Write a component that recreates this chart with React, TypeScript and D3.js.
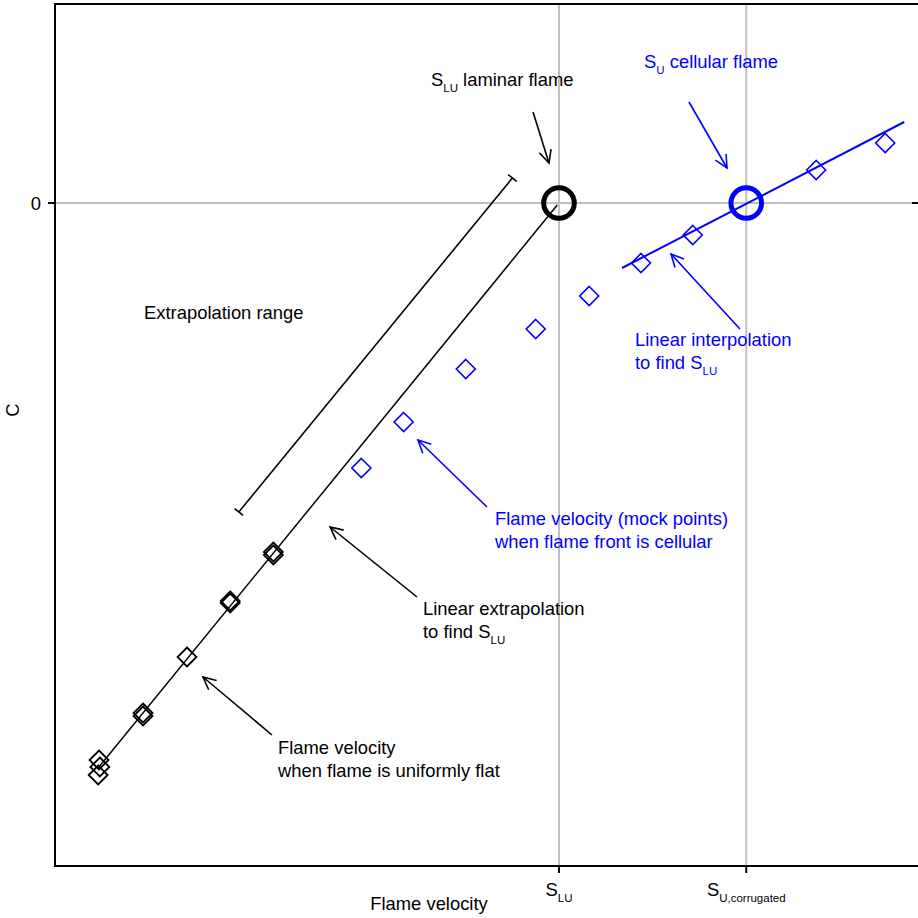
import React from "react";
import * as d3 from "d3";

// ---- data (abstract units) ----
const flatX = [0.50, 0.51, 0.52, 1.02, 1.02, 1.53, 2.03, 2.03, 2.53, 2.53];
const flatY = [-5.72, -5.57, -5.64, -5.10, -5.13, -4.54, -3.98, -4.00, -3.52, -3.49];

const cellX = [3.55, 4.04, 4.76, 5.57, 6.19, 6.79, 7.39, 8.82, 9.62];
const cellY = [-2.65, -2.19, -1.66, -1.26, -0.93, -0.60, -0.32, 0.33, 0.60];

const extrapLineX = [0.49, 5.82];
const extrapLineY = [-5.66, -0.02];
const interpLineX = [6.57, 9.84];
const interpLineY = [-0.65, 0.81];
const rangeBarX = [2.13, 5.30];
const rangeBarY = [-3.09, 0.25];

const S_LU = 5.84;
const S_UC = 8.01;
const xTickValues = [S_LU, S_UC];
const xTickMain = ["S", "S"];
const xTickSub = ["LU", "U,corrugated"];
const yTickValues = [0];
const yTickLabels = ["0"];

// arrows: tail -> tip
const arrowTailX = [5.539, 7.346, 7.937, 5.006, 4.195, 2.514];
const arrowTailY = [0.91, 1.01, -1.26, -3.04, -3.94, -5.32];
const arrowTipX = [5.724, 7.787, 7.138, 4.206, 3.187, 1.715];
const arrowTipY = [0.40, 0.35, -0.51, -2.37, -3.24, -4.74];
const arrowColor = ["#000", "#0000ff", "#0000ff", "#0000ff", "#000", "#000"];

const X_DOMAIN = [0, 10];
const Y_DOMAIN = [-6.63, 1.99];

const BLUE = "#0000ff";
const FONT = "'Liberation Sans', Arial, sans-serif";
const FS = 18.4;
const SUB_FS = 11.5;
const SUB_DY = 6;

export default function App() {
  const W = 918, H = 918;
  const left = 55, top = 4, bottom = 866, right = 918;
  const x = d3.scaleLinear().domain(X_DOMAIN).range([left, right]);
  const y = d3.scaleLinear().domain(Y_DOMAIN).range([bottom, top]);
  const line = d3.line<[number, number]>().x(d => x(d[0])).y(d => y(d[1]));

  const diamond = (cx: number, cy: number, r: number) =>
    `M${cx},${cy - r}L${cx + r},${cy}L${cx},${cy + r}L${cx - r},${cy}Z`;

  const arrow = (i: number) => {
    const x1 = x(arrowTailX[i]), y1 = y(arrowTailY[i]);
    const x2 = x(arrowTipX[i]), y2 = y(arrowTipY[i]);
    const ang = Math.atan2(y2 - y1, x2 - x1);
    const L = 14, a = (26 * Math.PI) / 180;
    const h1 = [x2 - L * Math.cos(ang - a), y2 - L * Math.sin(ang - a)];
    const h2 = [x2 - L * Math.cos(ang + a), y2 - L * Math.sin(ang + a)];
    return (
      <g key={"a" + i} stroke={arrowColor[i]} strokeWidth={1.6} fill="none">
        <line x1={x1} y1={y1} x2={x2} y2={y2} />
        <path d={`M${h1[0]},${h1[1]}L${x2},${y2}L${h2[0]},${h2[1]}`} />
      </g>
    );
  };

  // range bar with end caps
  const rb = (() => {
    const x1 = x(rangeBarX[0]), y1 = y(rangeBarY[0]);
    const x2 = x(rangeBarX[1]), y2 = y(rangeBarY[1]);
    const ang = Math.atan2(y2 - y1, x2 - x1);
    const px = Math.cos(ang + Math.PI / 2) * 5.5, py = Math.sin(ang + Math.PI / 2) * 5.5;
    return (
      <g stroke="#000" strokeWidth={1.6}>
        <line x1={x1} y1={y1} x2={x2} y2={y2} />
        <line x1={x1 - px} y1={y1 - py} x2={x1 + px} y2={y1 + py} />
        <line x1={x2 - px} y1={y2 - py} x2={x2 + px} y2={y2 + py} />
      </g>
    );
  })();

  const T = (props: any) => <text fontFamily={FONT} fontSize={FS} {...props} />;

  return (
    <svg width={W} height={H} style={{ position: "absolute", left: 0, top: 0, background: "#fff" }}>
      {/* grid */}
      {xTickValues.map((v, i) => (
        <line key={"gx" + i} x1={x(v)} x2={x(v)} y1={top} y2={bottom} stroke="#c0c0c0" strokeWidth={2} />
      ))}
      {yTickValues.map((v, i) => (
        <line key={"gy" + i} x1={left} x2={right} y1={y(v)} y2={y(v)} stroke="#c0c0c0" strokeWidth={2} />
      ))}
      <line x1={912} x2={918} y1={y(0)} y2={y(0)} stroke="#000" strokeWidth={2} />

      {/* frame */}
      <path d={`M${right + 5},${top}H${left}V${bottom}H${right + 5}`} fill="none" stroke="#000" strokeWidth={2} />

      {/* ticks */}
      {xTickValues.map((v, i) => (
        <g key={"tx" + i}>
          <line x1={x(v)} x2={x(v)} y1={bottom} y2={bottom + 7} stroke="#000" strokeWidth={2} />
          <T x={x(v)} y={896} textAnchor="middle">
            {xTickMain[i]}
            <tspan fontSize={SUB_FS} dy={SUB_DY}>{xTickSub[i]}</tspan>
          </T>
        </g>
      ))}
      {yTickValues.map((v, i) => (
        <g key={"ty" + i}>
          <line x1={left - 7} x2={left} y1={y(v)} y2={y(v)} stroke="#000" strokeWidth={2} />
          <T x={41} y={y(v) + 6.5} textAnchor="end">{yTickLabels[i]}</T>
        </g>
      ))}

      {/* axis titles */}
      <T x={429} y={910} textAnchor="middle">Flame velocity</T>
      <T transform={`translate(19,410) rotate(-90)`} textAnchor="middle">C</T>

      {/* lines */}
      <path d={line(extrapLineX.map((v, i) => [v, extrapLineY[i]]) as any) || ""} stroke="#000" strokeWidth={1.5} fill="none" />
      <path d={line(interpLineX.map((v, i) => [v, interpLineY[i]]) as any) || ""} stroke={BLUE} strokeWidth={2} fill="none" />
      {rb}

      {/* points */}
      {flatX.map((v, i) => (
        <path key={"f" + i} d={diamond(x(v), y(flatY[i]), 9.5)} fill="none" stroke="#000" strokeWidth={1.8} />
      ))}
      {cellX.map((v, i) => (
        <path key={"c" + i} d={diamond(x(v), y(cellY[i]), 9.5)} fill="none" stroke={BLUE} strokeWidth={1.6} />
      ))}

      {/* circles */}
      <circle cx={x(S_LU)} cy={y(0)} r={15.3} fill="none" stroke="#000" strokeWidth={5} />
      <circle cx={x(S_UC)} cy={y(0)} r={15.3} fill="none" stroke={BLUE} strokeWidth={5} />

      {/* arrows */}
      {arrowTailX.map((_, i) => arrow(i))}

      {/* annotations */}
      <T x={431} y={86}>S<tspan fontSize={SUB_FS} dy={SUB_DY}>LU</tspan><tspan dy={-SUB_DY}> laminar flame</tspan></T>
      <T x={644} y={68} fill={BLUE}>S<tspan fontSize={SUB_FS} dy={SUB_DY}>U</tspan><tspan dy={-SUB_DY}> cellular flame</tspan></T>
      <T x={144} y={319}>Extrapolation range</T>
      <T x={635} y={346} fill={BLUE}>Linear interpolation</T>
      <T x={635} y={369} fill={BLUE}>to find S<tspan fontSize={SUB_FS} dy={SUB_DY}>LU</tspan></T>
      <T x={495} y={525} fill={BLUE}>Flame velocity (mock points)</T>
      <T x={495} y={548} fill={BLUE}>when flame front is cellular</T>
      <T x={423} y={615}>Linear extrapolation</T>
      <T x={423} y={638}>to find S<tspan fontSize={SUB_FS} dy={SUB_DY}>LU</tspan></T>
      <T x={278} y={754}>Flame velocity</T>
      <T x={278} y={777}>when flame is uniformly flat</T>
    </svg>
  );
}
